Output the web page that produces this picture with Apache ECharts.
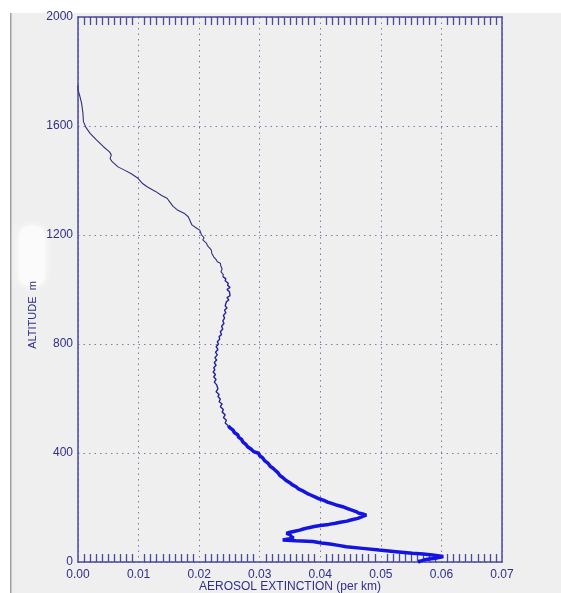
<!DOCTYPE html>
<html>
<head>
<meta charset="utf-8">
<script src="https://cdn.jsdelivr.net/npm/echarts@6/dist/echarts.min.js"></script>
<style>
html,body{margin:0;padding:0;background:#efefef;}
#c{width:561px;height:593px;}
</style>
</head>
<body>
<div id="c"></div>
<script>
// Upper profile (thin line)
const ALT_TOP = [1750,1732,1710,1683,1650,1616,1595,1573,1550,1524,1505,1494,1481,1470,1463,1450,1439,1425,1408,1390,1377,1360,1345,1335,1320,1305,1292,1280,1267,1252,1237,1225,1218,1200,1190,1182,1170,1160,1145,1132,1120,1110,1102,1096,1085,1075,1065,1055,1047];
const EXT_TOP = [0.0000,0.0000,0.0003,0.0006,0.0008,0.0009,0.0013,0.0020,0.0030,0.0042,0.0052,0.0055,0.0053,0.0056,0.0059,0.0066,0.0076,0.0088,0.0099,0.0106,0.0114,0.0128,0.0138,0.0147,0.0152,0.0157,0.0164,0.0175,0.0182,0.0185,0.0188,0.0196,0.0201,0.0204,0.0208,0.0206,0.0212,0.0214,0.0220,0.0221,0.0224,0.0228,0.0230,0.0235,0.0236,0.0238,0.0236,0.0240,0.0239];
// Middle profile (noisier)
const ALT_MID = [1047,1040,1032,1023,1015,1008,1000,992,985,977,970,962,955,948,940,932,925,915,905,895,885,875,865,855,845,835,827,818,808,800,790,780,770,760,750,741,732,722,713,705,697,688,680,670,660,650,643,635,625,615,607,598,588,580,570,560,550,540,530,520,510,500];
const EXT_MID = [0.0239,0.0244,0.0243,0.0248,0.0247,0.0251,0.0246,0.0250,0.0247,0.0251,0.0246,0.0249,0.0245,0.0247,0.0243,0.0246,0.0242,0.0244,0.0240,0.0242,0.0239,0.0241,0.0237,0.0239,0.0235,0.0237,0.0233,0.0234,0.0230,0.0232,0.0228,0.0231,0.0227,0.0230,0.0226,0.0229,0.0225,0.0228,0.0224,0.0226,0.0223,0.0227,0.0224,0.0228,0.0225,0.0229,0.0227,0.0231,0.0228,0.0233,0.0231,0.0235,0.0233,0.0238,0.0235,0.0240,0.0238,0.0243,0.0240,0.0245,0.0243,0.0248];
// Lower profile (thick, noisy)
const ALT_LOW = [500,492,484,475,466,458,450,441,432,423,414,405,399,390,382,372,362,352,344,336,328,318,310,300,292,283,276,268,260,252,245,238,232,226,220,214,208,203,197,191,185,180,176,172,168,164,160,155,150,146,142,138,134,130,126,121,117,113,109,105,101,97,93,89,85,81,78,75,70,66,61,56,50,44,38,32,29,26,22,20,17,14,11,8,5,2,0];
const EXT_LOW = [0.0248,0.0251,0.0256,0.0258,0.0264,0.0265,0.0270,0.0272,0.0277,0.0280,0.0286,0.0290,0.0298,0.0300,0.0305,0.0308,0.0314,0.0317,0.0322,0.0326,0.0330,0.0333,0.0338,0.0343,0.0349,0.0354,0.0360,0.0364,0.0372,0.0378,0.0385,0.0392,0.0398,0.0406,0.0412,0.0420,0.0428,0.0437,0.0444,0.0451,0.0459,0.0463,0.0470,0.0476,0.0471,0.0468,0.0462,0.0452,0.0444,0.0433,0.0425,0.0414,0.0400,0.0390,0.0381,0.0372,0.0366,0.0358,0.0350,0.0344,0.0350,0.0347,0.0352,0.0356,0.0350,0.0338,0.0360,0.0388,0.0402,0.0416,0.0430,0.0443,0.0470,0.0497,0.0525,0.0552,0.0570,0.0585,0.0597,0.0603,0.0598,0.0590,0.0580,0.0572,0.0568,0.0562,0.0565];

const X_LABELS = ['0.00','0.01','0.02','0.03','0.04','0.05','0.06','0.07'];
const Y_LABELS = ['0','400','800','1200','1600','2000'];

const AXIS_COLOR = '#4a4a9c';
const TEXT_COLOR = '#2e2e8c';
const GRID_COLOR = '#7a7ab0';
const FONT = 'Liberation Sans';

function pairs(xs, ys){ return xs.map((v,i)=>[v, ys[i]]); }

const chart = echarts.init(document.getElementById('c'), null, {renderer:'canvas'});
function minorTicks(){
  return {show:true, splitNumber:10, length:8, lineStyle:{color:AXIS_COLOR, width:1.3}};
}
chart.setOption({
  backgroundColor:'#efefef',
  animation:false,
  grid:{left:78, right:59, top:17, bottom:31, containLabel:false, outerBoundsMode:'none'},
  xAxis:[
    {
      type:'value', min:0, max:0.07, interval:0.01, position:'bottom',
      axisLine:{show:true, onZero:false, lineStyle:{color:AXIS_COLOR, width:1.5}},
      axisTick:{show:false, inside:true},
      minorTick:minorTicks(),
      axisLabel:{color:TEXT_COLOR, fontFamily:FONT, fontSize:12, margin:7,
        formatter:(v)=>X_LABELS[Math.round(v*100)]},
      splitLine:{show:true, lineStyle:{color:GRID_COLOR, type:[1.5,4], width:1}},
      name:'AEROSOL EXTINCTION (per km)', nameLocation:'middle', nameGap:19,
      nameMoveOverlap:false,
      nameTextStyle:{color:TEXT_COLOR, fontFamily:FONT, fontSize:12}
    },
    {
      type:'value', min:0, max:0.07, interval:0.01, position:'top',
      axisLine:{show:true, onZero:false, lineStyle:{color:AXIS_COLOR, width:1.5}},
      axisTick:{show:false, inside:true},
      minorTick:minorTicks(),
      axisLabel:{show:false}, splitLine:{show:false}
    }
  ],
  yAxis:[
    {type:'value', min:0, max:2000, interval:400, position:'left',
     axisLine:{show:true, onZero:false, lineStyle:{color:AXIS_COLOR, width:1.5}},
     axisTick:{show:false},
     axisLabel:{color:TEXT_COLOR, fontFamily:FONT, fontSize:12, margin:5,
       formatter:(v)=>Y_LABELS[Math.round(v/400)]},
     splitLine:{show:true, lineStyle:{color:GRID_COLOR, type:[1.5,4], width:1}}
    },
    {type:'value', min:0, max:2000, interval:400, position:'right',
     axisLine:{show:true, onZero:false, lineStyle:{color:AXIS_COLOR, width:1.5}},
     axisTick:{show:false}, axisLabel:{show:false}, splitLine:{show:false}
    }
  ],
  graphic:[
    {type:'rect', z:-10, shape:{x:0,y:0,width:561,height:13}, style:{fill:'#ffffff'}, silent:true},
    {type:'rect', z:-10, shape:{x:0,y:0,width:10,height:593}, style:{fill:'#ffffff'}, silent:true},
    {type:'rect', z:-10, shape:{x:10,y:13,width:1.5,height:580}, style:{fill:'#a0a0a0'}, silent:true},
    {type:'rect', shape:{x:19,y:226,width:26,height:60,r:10}, style:{fill:'#fbfbfb', shadowBlur:10, shadowColor:'#ffffff'}, silent:true},
    {type:'text', x:33, y:315, rotation:Math.PI/2,
     style:{text:'ALTITUDE  m', fill:TEXT_COLOR, font:'11px "Liberation Sans"', align:'center', verticalAlign:'middle'}, silent:true}
  ],
  series:[
    {type:'line', xAxisIndex:1, yAxisIndex:1, data:pairs(EXT_TOP, ALT_TOP), showSymbol:false, symbol:'none',
     lineStyle:{color:'#30307e', width:1.1}, silent:true},
    {type:'line', data:pairs(EXT_MID, ALT_MID), showSymbol:false, symbol:'none',
     lineStyle:{color:'#22229a', width:1.4}, silent:true},
    {type:'line', data:pairs(EXT_LOW, ALT_LOW), showSymbol:false, symbol:'none',
     lineStyle:{color:'#1414e0', width:3.5}, silent:true}
  ]
});
</script>
</body>
</html>
